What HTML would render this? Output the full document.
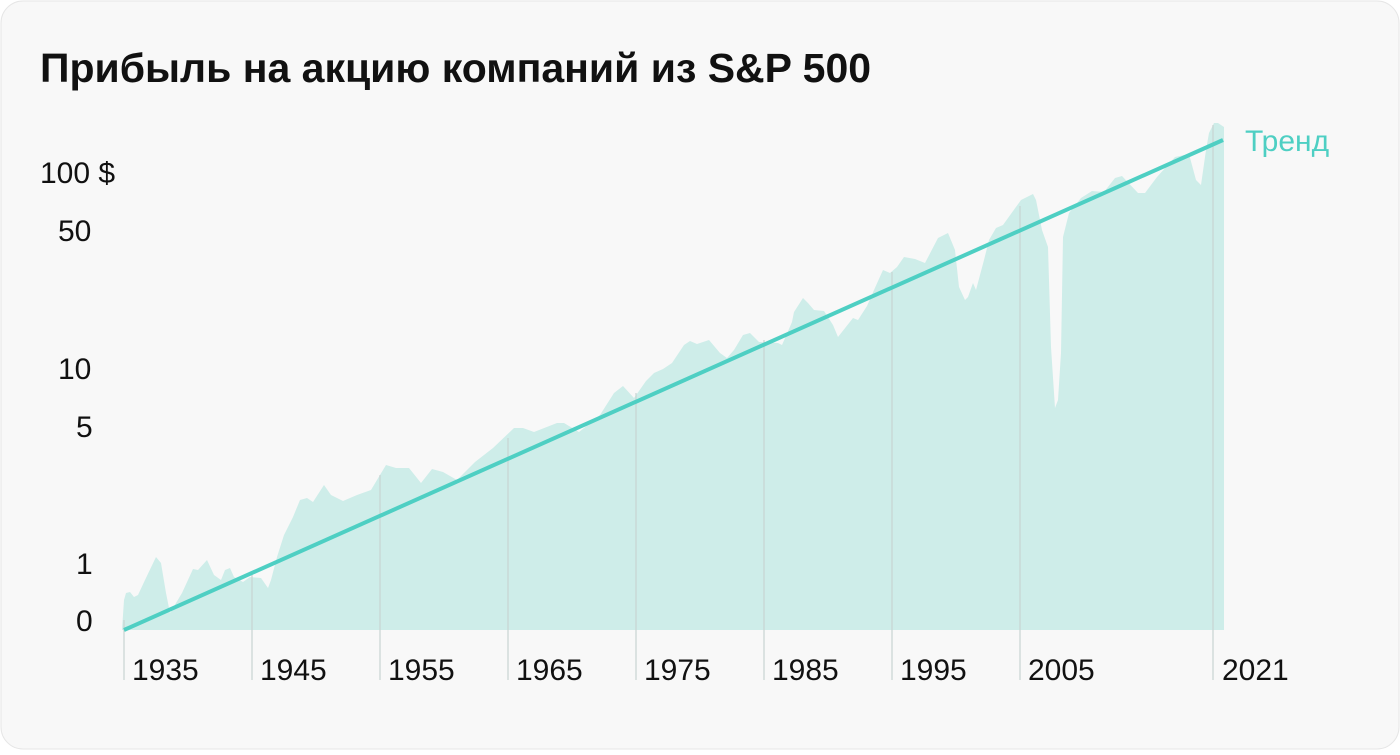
<!DOCTYPE html>
<html><head><meta charset="utf-8"><style>
html,body{margin:0;padding:0;background:#fff;}
body{width:1400px;height:750px;overflow:hidden;}
</style></head><body>
<svg width="1400" height="750" xmlns="http://www.w3.org/2000/svg" font-family="Liberation Sans, sans-serif">
<rect x="1" y="1" width="1398" height="748" rx="22" fill="#f8f8f8" stroke="#e6e6e6"/>
<text x="40" y="82" font-size="41" font-weight="bold" fill="#111">Прибыль на акцию компаний из S&amp;P 500</text>
<g font-size="30" fill="#111">
<text x="40" y="183">100 $</text>
<text x="58" y="241">50</text>
<text x="58" y="379">10</text>
<text x="76" y="437">5</text>
<text x="76" y="574">1</text>
<text x="76" y="631">0</text>
</g>
<polygon fill="#ceede9" points="122,630 124,600 126,593 130,592 134,597 138,595 145,580 156,557 161,563 166,593 170,613 182,593 193,569 198,570 207,560 214,575 221,580 225,570 230,568 234,577 243,582 250,577 261,578 268,588 271,580 277,557 284,535 293,517 300,500 307,498 313,502 324,485 331,495 343,501 357,495 371,490 386,465 396,468 409,468 421,483 432,469 443,472 457,480 475,462 493,448 514,428 523,428 534,432 557,423 564,423 579,432 600,415 614,393 623,386 634,398 646,381 654,373 663,369 672,363 684,345 690,341 697,344 709,340 720,353 727,358 734,350 743,335 750,333 759,342 778,343 782,345 792,322 794,312 803,298 808,303 814,310 824,311 833,325 838,337 853,318 858,320 867,306 874,290 883,270 890,273 897,267 904,257 915,259 925,263 938,238 948,233 955,250 959,287 965,300 968,297 973,283 976,290 984,260 989,240 996,228 1003,225 1021,200 1033,194 1036,200 1042,230 1048,247 1051,347 1055,408 1058,400 1061,353 1063,237 1069,213 1081,198 1092,191 1104,192 1115,178 1122,176 1138,193 1145,193 1157,177 1175,157 1189,154 1196,180 1201,185 1206,150 1209,133 1214,123 1218,123 1224,127 1224,630"/>
<g stroke="#c8d4d2" stroke-width="1.2">
<line x1="124" y1="620" x2="124" y2="680"/>
<line x1="252" y1="573" x2="252" y2="680"/>
<line x1="380" y1="475" x2="380" y2="680"/>
<line x1="508" y1="438" x2="508" y2="680"/>
<line x1="636" y1="393" x2="636" y2="680"/>
<line x1="764" y1="340" x2="764" y2="680"/>
<line x1="892" y1="272" x2="892" y2="680"/>
<line x1="1020" y1="206" x2="1020" y2="680"/>
<line x1="1213" y1="125" x2="1213" y2="680"/>
</g>
<line x1="124" y1="630" x2="1223" y2="140" stroke="#4ecfc3" stroke-width="4"/>
<text x="1245" y="151" font-size="30" fill="#4ecfc3">Тренд</text>
<g font-size="30" fill="#111">
<text x="132" y="680">1935</text>
<text x="260" y="680">1945</text>
<text x="388" y="680">1955</text>
<text x="516" y="680">1965</text>
<text x="644" y="680">1975</text>
<text x="772" y="680">1985</text>
<text x="900" y="680">1995</text>
<text x="1028" y="680">2005</text>
<text x="1222" y="680">2021</text>
</g>
</svg>
</body></html>
